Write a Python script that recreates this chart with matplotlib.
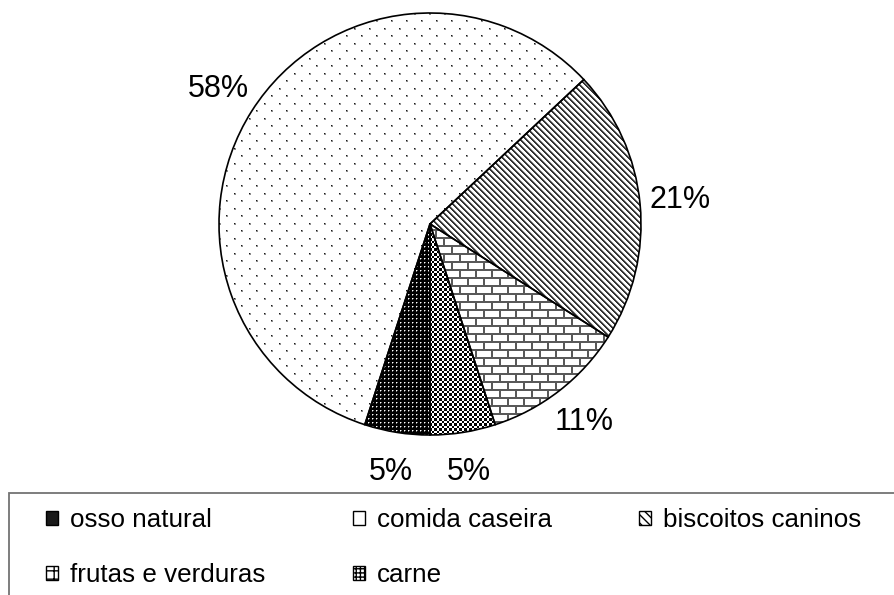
import numpy as np
import matplotlib
matplotlib.use('Agg')
import matplotlib.pyplot as plt
from matplotlib.patches import Rectangle

plt.rcParams['font.family'] = ['Liberation Sans', 'DejaVu Sans']

categories = ['osso natural', 'comida caseira', 'biscoitos caninos',
              'frutas e verduras', 'carne']
values = [5, 58, 21, 11, 5]

W, H = 894, 595
fig = plt.figure(figsize=(W / 100, H / 100), dpi=100)
cx, cy, r = 430, 224, 211
ax = fig.add_axes([(cx - r) / W, (H - cy - r) / H, 2 * r / W, 2 * r / H])

wedges, texts, pcts = ax.pie(
    values, startangle=-90, counterclock=False, radius=1,
    autopct=lambda p: f'{p:.0f}%', pctdistance=1.19,
    wedgeprops=dict(facecolor='none', edgecolor='black', linewidth=1.2, zorder=3),
    textprops=dict(fontsize=22))

# bitmap fill patterns, one per slice (like the old excel pattern fills)
n = 2 * r
yy, xx = np.mgrid[0:n, 0:n]


def tex_osso():
    t = np.zeros((n, n))
    a, b = xx % 4, yy % 4
    t[(a == 1) & (b == 1)] = 1.0
    t[(a == 2) & (b == 1)] = 0.45
    t[(a == 1) & (b == 2)] = 0.45
    return t


def tex_comida():
    t = np.ones((n, n))
    for ox, oy in [(0, 0), (7, 7)]:
        a = (xx - ox) % 15
        b = (yy - oy) % 15
        t[(a <= 1) & (b <= 1)] = 0.55
        t[(a == 0) & (b == 0)] = 0.1
    return t


def tex_biscoitos():
    t = np.ones((n, n))
    d = (xx - yy) % 6
    t[d < 2] = 0.2
    t[d == 2] = 0.6
    return t


def tex_frutas():
    t = np.ones((n, n))
    off = np.where((yy // 8) % 2 == 0, 0, 8)
    t[(yy % 8) < 2] = 0.35
    t[((xx - off) % 16) < 2] = 0.35
    return t


def tex_carne():
    return ((xx * 2 // 5 + yy * 2 // 5) % 2).astype(float)


textures = [tex_osso(), tex_comida(), tex_biscoitos(), tex_frutas(), tex_carne()]
for w, t in zip(wedges, textures):
    im = ax.imshow(t, cmap='gray', vmin=0, vmax=1, extent=(-1, 1, -1, 1),
                   interpolation='nearest', zorder=1)
    im.set_clip_path(w)

ax.set_xlim(-1, 1)
ax.set_ylim(-1, 1)
ax.set_aspect('equal')
ax.axis('off')

# legend
handle_styles = [
    dict(facecolor='0.1'),
    dict(facecolor='white'),
    dict(facecolor='white', hatch='\\\\\\\\'),
    dict(facecolor='white', hatch='++'),
    dict(facecolor='white', hatch='++++'),
]
handles = [Rectangle((0, 0), 1, 1, edgecolor='black', linewidth=1, **s)
           for s in handle_styles]
order = [0, 3, 1, 4, 2]
fig.legend([handles[i] for i in order], [categories[i] for i in order],
           ncol=3, loc='upper left', bbox_to_anchor=(46 / W, 1 - 508 / H),
           frameon=False, fontsize=18.7, handlelength=0.48, handleheight=0.48,
           handletextpad=0.45, columnspacing=3.35, labelspacing=1.2,
           borderpad=0, borderaxespad=0)
fig.add_artist(Rectangle((9 / W, -0.1), 1.2, 0.1 + (1 - 493 / H),
                         transform=fig.transFigure, facecolor='none',
                         edgecolor='0.45', linewidth=1.3))

fig.savefig('out.png', dpi=100)
